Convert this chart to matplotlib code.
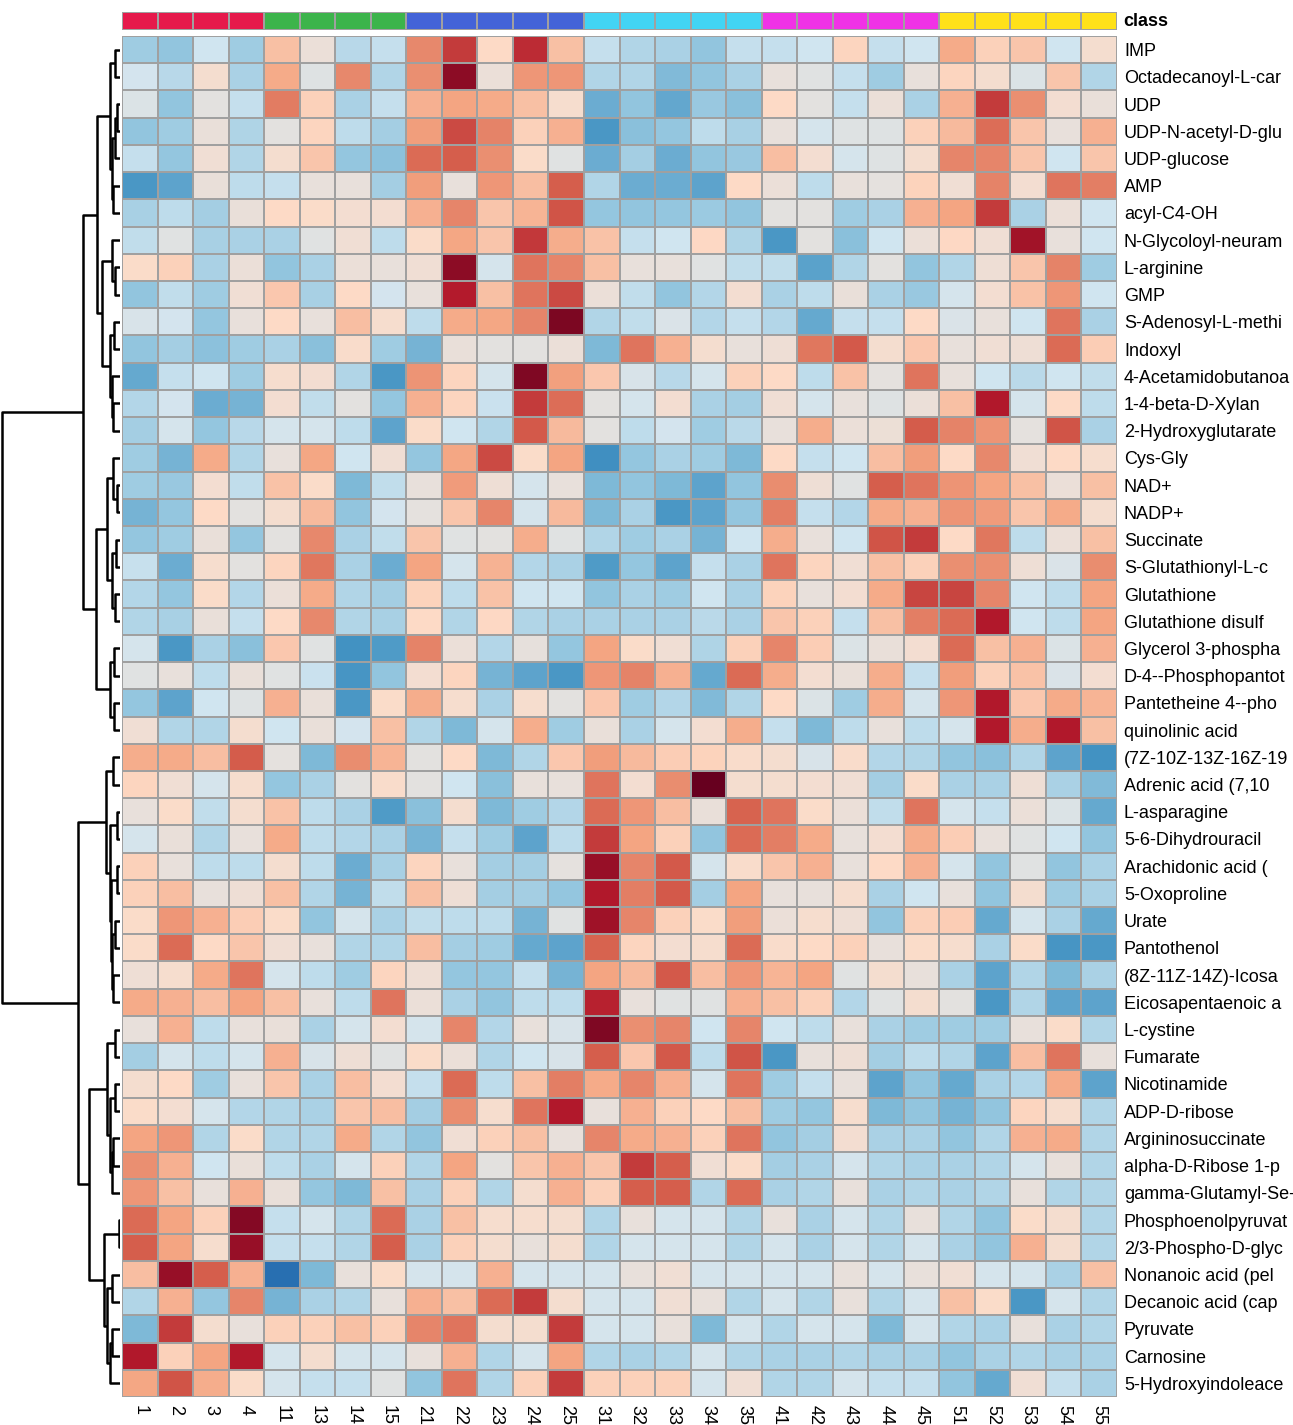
import numpy as np
import matplotlib
matplotlib.use('Agg')
import matplotlib.pyplot as plt
from matplotlib.colors import LinearSegmentedColormap, ListedColormap

plt.rcParams['font.family'] = ['Liberation Sans', 'DejaVu Sans']

samples = ['1', '2', '3', '4', '11', '13', '14', '15', '21', '22', '23', '24', '25',
           '31', '32', '33', '34', '35', '41', '42', '43', '44', '45',
           '51', '52', '53', '54', '55']
sample_class = [0, 0, 0, 0, 1, 1, 1, 1, 2, 2, 2, 2, 2, 3, 3, 3, 3, 3,
                4, 4, 4, 4, 4, 5, 5, 5, 5, 5]
class_colors = ['#E6194B', '#3CB44B', '#4363D8', '#42D4F4', '#F032E6', '#FFE119']

metabolites = ['IMP', 'Octadecanoyl-L-car', 'UDP', 'UDP-N-acetyl-D-glu', 'UDP-glucose', 'AMP',
               'acyl-C4-OH', 'N-Glycoloyl-neuram', 'L-arginine', 'GMP', 'S-Adenosyl-L-methi',
               'Indoxyl', '4-Acetamidobutanoa', '1-4-beta-D-Xylan', '2-Hydroxyglutarate',
               'Cys-Gly', 'NAD+', 'NADP+', 'Succinate', 'S-Glutathionyl-L-c', 'Glutathione',
               'Glutathione disulf', 'Glycerol 3-phospha', 'D-4--Phosphopantot',
               'Pantetheine 4--pho', 'quinolinic acid', '(7Z-10Z-13Z-16Z-19',
               'Adrenic acid (7,10', 'L-asparagine', '5-6-Dihydrouracil', 'Arachidonic acid (',
               '5-Oxoproline', 'Urate', 'Pantothenol', '(8Z-11Z-14Z)-Icosa', 'Eicosapentaenoic a',
               'L-cystine', 'Fumarate', 'Nicotinamide', 'ADP-D-ribose', 'Argininosuccinate',
               'alpha-D-Ribose 1-p', 'gamma-Glutamyl-Se-', 'Phosphoenolpyruvat',
               '2/3-Phospho-D-glyc', 'Nonanoic acid (pel', 'Decanoic acid (cap', 'Pyruvate',
               'Carnosine', '5-Hydroxyindoleace']

values = [
    [-1.3, -1.5, -0.5, -1.3, 1.0, 0.1, -0.9, -0.7, 1.9, 3.0, 0.5, 3.2, 1.0, -0.7, -1.0, -1.1, -1.5, -0.7, -0.7, -0.5, 0.6, -0.7, -0.5, 1.4, 0.7, 0.9, -0.5, 0.3],
    [-0.45, -0.9, 0.3, -1.1, 1.4, -0.2, 1.9, -1.0, 1.8, 4.0, 0.1, 1.7, 1.7, -1.0, -1.0, -1.7, -1.5, -1.1, 0.0, -0.15, -0.7, -1.3, 0.0, 0.6, 0.3, -0.25, 0.9, -1.0],
    [-0.25, -1.5, -0.1, -0.7, 2.1, 0.7, -1.1, -0.7, 1.3, 1.5, 1.4, 1.0, 0.35, -2.0, -1.5, -2.1, -1.4, -1.6, 0.5, -0.1, -0.7, 0.1, -1.1, 1.3, 3.0, 1.8, 0.25, 0.05],
    [-1.5, -1.3, 0.05, -1.05, -0.1, 0.6, -0.8, -1.2, 1.6, 2.8, 2.0, 0.7, 1.3, -2.4, -1.6, -1.45, -0.8, -1.15, 0.0, -0.4, -0.2, -0.2, 0.7, 1.1, 2.3, 0.9, 0.02, 1.3],
    [-0.7, -1.45, 0.2, -1.0, 0.3, 0.9, -1.45, -1.55, 2.35, 2.5, 1.8, 0.45, -0.15, -2.0, -1.2, -2.0, -1.5, -1.4, 1.05, 0.25, -0.4, -0.2, 0.3, 1.95, 1.95, 0.9, -0.5, 0.9],
    [-2.4, -2.15, 0.05, -0.8, -0.7, 0.02, 0.03, -1.2, 1.6, 0.0, 1.7, 1.05, 2.5, -1.0, -2.0, -2.0, -2.15, 0.5, 0.1, -0.8, 0.02, -0.05, 0.65, 0.2, 2.0, 0.25, 2.2, 2.05],
    [-1.15, -0.8, -1.2, 0.05, 0.5, 0.45, 0.25, 0.25, 1.3, 1.95, 0.9, 1.2, 2.65, -1.45, -1.5, -1.45, -1.35, -1.5, -0.1, -0.1, -1.3, -1.1, 1.3, 1.5, 3.0, -1.1, 0.1, -0.5],
    [-0.75, -0.15, -1.15, -1.1, -1.1, -0.15, 0.2, -0.8, 0.45, 1.45, 0.9, 3.05, 1.35, 0.95, -0.7, -0.5, 0.55, -1.05, -2.4, -0.1, -1.6, -0.5, 0.1, 0.55, 0.2, 3.7, 0.02, -0.5],
    [0.45, 0.7, -1.1, 0.1, -1.5, -1.1, 0.1, 0.03, 0.2, 4.0, -0.4, 2.2, 1.95, 1.0, 0.02, 0.03, -0.15, -0.75, -0.75, -2.2, -1.0, -0.1, -1.5, -1.0, 0.15, 0.9, 2.0, -1.3],
    [-1.5, -0.75, -1.3, 0.2, 0.85, -1.15, 0.5, -0.45, 0.02, 3.45, 1.0, 2.2, 2.8, 0.1, -0.75, -1.5, -0.95, 0.25, -1.1, -0.8, 0.05, -1.1, -1.4, -0.4, 0.25, 0.95, 1.7, -0.5],
    [-0.35, -0.45, -1.45, 0.0, 0.5, 0.0, 1.05, 0.35, -0.8, 1.4, 1.45, 1.95, 4.2, -1.0, -0.75, -0.3, -0.95, -0.7, -0.95, -2.05, -0.7, -0.7, 0.5, -0.3, 0.0, -0.5, 2.2, -1.1],
    [-1.5, -1.2, -1.55, -1.3, -1.1, -1.6, 0.4, -1.3, -1.85, 0.05, -0.1, -0.1, 0.08, -1.75, 2.2, 1.3, 0.3, 0.02, 0.15, 2.15, 2.6, 0.3, 0.85, 0.0, 0.2, 0.15, 2.35, 0.75],
    [-2.05, -0.7, -0.5, -1.3, 0.35, 0.25, -1.0, -2.4, 1.75, 0.6, -0.4, 4.15, 1.55, 0.85, -0.35, -0.9, -0.4, 0.7, 0.5, -0.8, 0.95, -0.05, 2.2, 0.02, -0.5, -0.85, -0.5, -0.75],
    [-0.95, -0.45, -2.0, -1.85, 0.25, -0.75, -0.1, -1.45, 1.3, 0.6, -0.6, 3.0, 2.3, -0.1, -0.4, 0.25, -1.1, -1.2, 0.2, -0.4, 0.0, -0.2, 0.1, 1.0, 3.5, -0.4, 0.5, -0.8],
    [-1.2, -0.4, -1.45, -0.9, -0.4, -0.4, -0.8, -2.15, 0.45, -0.5, -1.0, 2.6, 1.1, -0.1, -0.8, -0.45, -1.3, -0.85, 0.0, 1.35, 0.1, 0.12, 2.55, 2.0, 1.75, -0.05, 2.65, -1.1],
    [-1.3, -1.85, 1.4, -1.0, 0.02, 1.45, -0.5, 0.2, -1.45, 1.45, 2.8, 0.45, 1.5, -2.6, -1.45, -1.1, -1.3, -1.75, 0.5, -0.7, -0.5, 1.05, 1.6, 0.5, 1.9, 0.2, 0.5, 0.35],
    [-1.3, -1.4, 0.25, -0.75, 0.95, 0.45, -1.75, -0.75, 0.02, 1.65, 0.15, -0.4, 0.0, -1.75, -1.5, -1.75, -2.15, -1.5, 1.85, 0.15, -0.15, 2.5, 2.2, 1.75, 1.5, 1.0, 0.1, 1.0],
    [-1.85, -1.45, 0.5, -0.1, 0.3, 1.1, -1.5, -0.45, -0.05, 0.9, 1.95, -0.4, 1.1, -1.75, -1.1, -2.4, -2.15, -1.45, 2.05, -0.7, -0.95, 1.4, 1.3, 1.75, 1.65, 0.9, 1.4, 0.3],
    [-1.45, -1.3, 0.05, -1.45, -0.08, 1.9, -1.1, -0.75, 0.9, -0.15, -0.1, 1.35, -0.15, -1.0, -1.3, -1.1, -1.85, -0.5, 1.35, 0.02, -0.5, 2.65, 3.0, 0.5, 2.15, -0.8, 0.1, 1.0],
    [-0.65, -2.0, 0.35, -0.1, 0.6, 2.15, -1.1, -2.0, 1.5, -0.4, 1.25, -0.95, -1.1, -2.35, -1.45, -2.15, -0.7, -1.1, 2.2, 0.6, 0.2, 1.0, 0.7, 1.8, 1.8, 0.15, -0.3, 1.85],
    [-0.95, -1.45, 0.45, -0.95, 0.1, 1.4, -1.0, -1.2, 0.65, -0.8, 0.95, -0.5, -0.5, -1.5, -1.1, -1.3, -0.5, -1.1, 0.65, 0.0, 0.25, 1.4, 2.85, 2.85, 1.95, -0.5, -0.8, 1.5],
    [-1.0, -1.15, 0.05, -0.7, 0.5, 1.9, -1.0, -1.15, 0.5, -1.0, 0.55, -1.0, -1.1, -1.1, -1.1, -1.1, -0.85, -1.1, 0.9, 0.7, -0.7, 1.0, 2.05, 2.35, 3.5, -0.5, -0.8, 1.5],
    [-0.4, -2.4, -1.1, -1.6, 0.85, -0.15, -2.5, -2.35, 2.0, 0.1, -0.95, -0.02, -1.45, 1.5, 0.45, 0.2, -1.05, 0.7, 1.95, 0.75, -0.25, 0.05, 0.25, 2.35, 1.0, 1.3, -0.25, 1.3],
    [-0.15, 0.03, -0.8, 0.05, -0.15, -0.6, -2.45, -1.5, 0.25, 0.6, -1.85, -2.15, -2.4, 1.7, 2.0, 1.3, -2.05, 2.35, 1.35, 0.25, 0.05, 1.35, -0.7, 1.6, 0.7, 0.95, -0.3, 0.25],
    [-1.45, -2.15, -0.5, -0.2, 1.3, 0.05, -2.4, 0.45, 1.35, 0.35, -1.1, 0.35, -0.1, 0.85, -1.3, -0.95, -1.7, -1.0, 0.5, -0.25, -1.3, 1.35, -0.4, 1.7, 3.5, 0.85, 1.4, 1.2],
    [0.2, -1.0, -1.0, 0.3, -0.5, 0.05, -0.45, 1.0, -1.0, -1.75, -0.4, 1.35, -1.3, 0.05, -1.1, -0.4, 0.25, 1.35, -0.7, -1.75, -0.8, 0.0, -0.8, -0.4, 3.5, 1.35, 3.5, 1.0],
    [1.35, 1.4, 1.05, 2.55, -0.05, -1.75, 1.85, 1.2, -0.1, 0.5, -1.75, -1.0, 0.85, 1.6, 1.1, 0.75, 0.65, 0.4, 0.3, -0.35, 0.4, -0.95, -1.0, -1.5, -1.6, -1.0, -2.15, -2.5],
    [0.6, 0.2, -0.4, 0.35, -1.45, -1.1, -0.1, 0.4, -0.1, -0.5, -1.6, 0.0, 0.0, 2.2, 0.25, 1.85, 4.5, 0.3, 0.3, 0.25, 0.2, -1.2, 0.45, -1.1, -1.1, 0.15, -1.1, -1.7],
    [0.0, 0.45, -0.75, 0.3, 0.95, -0.8, -1.1, -2.35, -1.6, 0.3, -1.75, -1.3, -0.95, 2.35, 1.7, 1.05, 0.05, 2.45, 2.2, 0.45, 0.1, -0.75, 2.2, -0.4, -0.7, 0.1, -0.25, -2.05],
    [-0.4, 0.05, -1.0, 0.02, 1.4, -0.8, -0.95, -1.1, -1.85, -0.7, -1.3, -2.15, -0.8, 3.0, 1.5, 0.7, -1.5, 2.35, 2.05, 1.4, 0.02, 0.25, 1.35, 0.75, 0.02, -0.15, -0.5, -1.5],
    [0.7, 0.02, -0.8, -0.8, 0.3, -0.8, -2.0, -1.15, 0.6, 0.0, -1.2, -1.2, -0.05, 3.85, 1.95, 2.6, -0.4, 0.4, 0.9, 1.3, 0.0, 0.5, 1.3, -0.4, -1.5, -0.15, -1.5, -1.1],
    [0.7, 1.05, 0.02, 0.15, 1.0, -1.0, -1.85, -0.75, 1.0, 0.15, -1.2, -1.2, -1.45, 3.5, 2.05, 2.6, -1.2, 1.5, 0.02, 0.0, 0.35, -1.1, -0.5, 0.0, -1.5, 0.3, -1.3, -1.1],
    [0.45, 1.7, 1.3, 0.75, 0.45, -1.5, -0.4, -1.1, -0.75, -0.8, -0.8, -1.85, -0.15, 3.75, 1.95, 0.7, 0.45, 1.6, 0.1, 0.35, 0.15, -1.5, 0.7, 0.75, -2.05, -0.4, -1.1, -2.05],
    [0.45, 2.35, 0.5, 0.9, 0.2, 0.02, -1.0, -1.0, 1.05, -1.2, -1.3, -2.05, -2.15, 2.45, 0.6, 0.25, 0.35, 2.35, 0.4, 0.5, 0.7, 0.0, 0.45, 0.35, -1.1, 0.45, -2.45, -2.4],
    [0.15, 0.35, 1.4, 2.2, -0.4, -0.8, -1.3, 0.6, 0.15, -1.45, -1.45, -0.7, -1.85, 1.5, 1.1, 2.6, 1.05, 1.7, 1.2, 1.5, -0.15, 0.3, 0.0, -1.1, -2.15, -1.0, -1.75, -1.1],
    [1.4, 1.3, 1.05, 1.5, 1.0, 0.0, -0.8, 2.2, 0.1, -1.1, -1.5, -0.8, -0.8, 3.35, 0.0, -0.15, -0.15, 1.3, 1.0, 0.7, -0.95, -0.15, 0.3, -0.1, -2.4, -1.0, -2.15, -2.15],
    [0.02, 1.3, -0.8, 0.02, 0.05, -1.1, -0.4, 0.25, -0.4, 1.95, -0.95, 0.0, -0.35, 4.15, 1.8, 1.95, -0.5, 1.95, -0.5, -0.8, 0.0, -1.1, -1.3, -1.3, -1.3, 0.0, 0.45, -1.0],
    [-1.2, -0.4, -0.8, -0.4, 1.3, -0.35, 0.15, -0.15, 0.45, 0.1, -1.0, -0.5, -0.35, 2.5, 0.85, 2.6, -0.8, 2.65, -2.4, 0.0, 0.15, -1.2, -0.8, -1.0, -2.15, 1.05, 2.2, 0.0],
    [0.3, 0.5, -1.3, 0.0, 0.9, -1.1, 1.05, 0.25, -0.7, 2.35, -0.8, 1.0, 2.05, 1.4, 1.95, 1.3, -0.4, 2.2, -1.3, -0.7, 0.0, -2.15, -1.5, -2.05, -1.1, -0.95, 1.4, -2.15],
    [0.45, 0.25, -0.4, -0.95, -1.0, -1.1, 0.9, 1.05, -1.2, 1.85, 0.35, 2.2, 3.5, 0.0, 1.3, 0.7, 0.5, 1.05, -1.3, -1.45, 0.35, -1.75, -1.5, -1.85, -1.5, 0.6, 0.35, -1.0],
    [1.5, 1.7, -1.0, 0.45, -1.0, -1.0, 1.4, -1.0, -1.5, 0.2, 0.7, 1.0, 0.0, 1.95, 1.4, 1.3, 0.7, 2.2, -1.5, -1.2, 0.25, -1.1, -1.1, -1.5, -1.0, 1.3, 1.4, -1.0],
    [1.8, 1.3, -0.5, 0.05, -0.8, -1.1, -0.4, 0.7, -1.0, 1.5, -0.1, 0.9, 1.3, 0.9, 3.0, 2.5, 0.2, 0.45, -1.2, -1.1, -0.4, -1.0, -1.1, -1.1, -1.0, -0.4, 0.0, -1.0],
    [1.7, 1.0, 0.0, 1.3, 0.05, -1.45, -1.75, 1.0, -1.1, 0.7, -1.0, 0.3, 1.3, 0.7, 2.5, 2.5, -1.0, 2.35, -1.1, -1.0, 0.0, -1.1, -1.0, -1.1, -1.0, 0.0, -1.0, -1.0],
    [2.35, 1.5, 0.7, 4.1, -0.7, -0.4, -1.0, 2.35, -1.1, 1.0, 0.35, 0.35, 0.3, -1.0, 0.0, -0.4, -0.4, -1.0, 0.0, -1.1, -0.4, -1.0, 0.0, -1.0, -1.5, 0.45, 0.3, -1.0],
    [2.5, 1.5, 0.35, 3.85, -0.7, -0.7, -1.0, 2.5, -1.1, 0.7, 0.3, 0.0, 0.3, -1.0, -0.4, -0.4, -0.4, -1.0, -0.4, -1.1, -0.4, -1.0, -0.4, -1.1, -1.5, 1.3, 0.3, -1.0],
    [1.05, 3.85, 2.5, 1.3, -3.3, -1.75, 0.0, 0.45, -0.4, -0.4, 1.3, -0.4, -0.4, -0.4, 0.0, 0.2, -0.4, -0.4, -0.4, -0.4, 0.0, -0.4, 0.0, 0.2, -0.4, -0.4, -1.1, 1.0],
    [-1.0, 1.3, -1.45, 1.95, -1.85, -1.1, -1.0, 0.0, 1.3, 1.0, 2.35, 3.0, 0.3, -0.4, -0.4, 0.2, 0.0, -1.0, -0.4, -1.0, 0.0, -1.0, -0.4, 1.0, 0.45, -2.4, -0.4, -1.0],
    [-1.75, 3.0, 0.3, 0.0, 0.7, 0.7, 1.0, 0.7, 1.95, 2.2, 0.3, 0.3, 3.0, -0.4, -0.4, 0.0, -1.75, -0.4, -1.0, -0.4, -0.4, -1.75, -0.4, -1.0, -1.1, 0.0, -1.1, -1.0],
    [3.5, 0.7, 1.5, 3.5, -0.4, 0.3, -0.4, -0.4, 0.0, 1.3, -1.0, -0.4, 1.5, -1.0, -1.1, -1.0, -0.4, -1.0, -1.1, -1.1, -1.0, -1.1, -1.1, -1.5, -1.1, -1.0, -1.1, -1.1],
    [1.45, 2.65, 1.35, 0.45, -0.4, -0.7, -0.7, -0.15, -1.5, 2.2, -1.0, 0.7, 3.0, 0.7, 0.7, 0.7, -0.4, 0.2, -1.0, -1.0, -0.4, -0.7, -0.7, -1.5, -2.05, 0.2, -0.7, -1.1],
]

# row dendrogram: [left, right, merge height]; leaves are row indices
clust_a = [[0, 1, 5], [[[2, 3, 3], 4, 5], [5, 6, 7], 8], 10]
clust_b = [[7, [8, 9, 5], 8], [[10, 11, 6], [12, [13, 14, 7], 8], 10], 17]
clust_c1 = [[15, [16, 17, 3], 7], [[18, 19, 4], [20, 21, 5], 8], 12]
clust_c2 = [[22, 23, 6], [24, 25, 6], 10]
clust_d = [[26, 27, 7], [[28, 29, 3], [[30, 31, 3], [[32, 33, 5], [34, 35, 7], 8], 9], 10], 13]
clust_e1 = [[36, 37, 5], [[38, 39, 5], [[40, 41, 7], 42, 8], 10], 12]
clust_e2 = [[43, 44, 1], [[45, 46, 8], [[47, 48, 8], 49, 10], 12], 15]
row_tree = [[[clust_a, clust_b, 22], [clust_c1, clust_c2, 23], 35],
            [clust_d, [clust_e1, clust_e2, 30], 40],
            113]

W, H = 1293, 1425
fig = plt.figure(figsize=(W / 100, H / 100), dpi=100)

def fr(x0, y0, x1, y1):
    return [x0 / W, 1 - y1 / H, (x1 - x0) / W, (y1 - y0) / H]

hm_l, hm_r, hm_t, hm_b = 122, 1117, 36, 1397

cmap = LinearSegmentedColormap.from_list(
    'rdbu', ['#053061', '#2166AC', '#4393C3', '#92C5DE', '#D1E5F0',
             '#FDDBC7', '#F4A582', '#D6604D', '#B2182B', '#67001F'], N=256)

data = np.array(values)
nr, nc = data.shape

ax = fig.add_axes(fr(hm_l, hm_t, hm_r, hm_b))
ax.pcolormesh(np.arange(nc + 1), np.arange(nr + 1), data, cmap=cmap, vmin=-4.5, vmax=4.5,
              edgecolors='#a0a0a0', linewidth=1.3)
ax.set_xlim(0, nc)
ax.set_ylim(nr, 0)
for s in ax.spines.values():
    s.set_visible(False)
ax.yaxis.tick_right()
ax.set_yticks(np.arange(nr) + 0.5)
ax.set_yticklabels(metabolites, fontsize=13)
ax.set_xticks(np.arange(nc) + 0.5)
ax.set_xticklabels(samples, fontsize=13, rotation=270)
ax.tick_params(axis='y', length=0, pad=5)
ax.tick_params(axis='x', length=0, pad=6)

# class annotation bar
axc = fig.add_axes(fr(hm_l, 12, hm_r, 30))
axc.pcolormesh(np.arange(nc + 1), [0, 1], np.array([sample_class]),
               cmap=ListedColormap(class_colors), vmin=-0.5, vmax=5.5,
               edgecolors='#a0a0a0', linewidth=1.3)
axc.set_xlim(0, nc)
axc.set_ylim(1, 0)
axc.set_xticks([])
axc.set_yticks([])
for s in axc.spines.values():
    s.set_visible(False)
axc.text(1.006, 0.5, 'class', transform=axc.transAxes, fontsize=13, fontweight='bold',
         va='center', ha='left')

# row dendrogram
axd = fig.add_axes(fr(0, hm_t, 120, hm_b))
axd.set_xlim(115, 0)
axd.set_ylim(nr, 0)
axd.axis('off')

def draw(node):
    if isinstance(node, int):
        return node + 0.5, 0.0
    yl, hl = draw(node[0])
    yr, hr = draw(node[1])
    h = node[2]
    axd.plot([hl, h, h, hr], [yl, yl, yr, yr], color='black', lw=1.8, solid_capstyle='butt')
    return (yl + yr) / 2, h

draw(row_tree)

fig.savefig('out.png', dpi=100)
